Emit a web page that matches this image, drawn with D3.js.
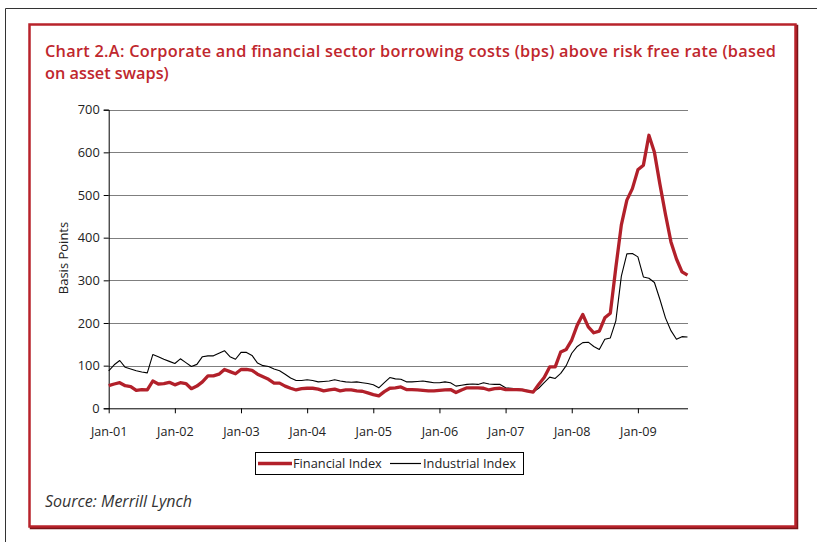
<!DOCTYPE html>
<html>
<head>
<meta charset="utf-8">
<script src="https://cdn.jsdelivr.net/npm/d3@7"></script>
<style>
  html, body { margin: 0; padding: 0; background: #ffffff; }
  svg { display: block; }
</style>
</head>
<body>
<svg id="chart" width="817" height="542"></svg>
<script>
// ---- DATA (monthly, Jan-01 .. Oct-09) ----
const tickLabels = ["Jan-01","Jan-02","Jan-03","Jan-04","Jan-05","Jan-06","Jan-07","Jan-08","Jan-09"];
const yTicks = [0,100,200,300,400,500,600,700];

const financialIndex = [
  53,57,60,53,51,42,44,43,64,57,58,61,
  55,60,58,46,52,62,76,76,80,91,86,81,
  91,91,89,80,74,68,59,59,52,47,43,46,
  47,47,45,41,43,45,41,43,43,41,40,36,
  32,29,39,47,48,50,44,44,43,42,41,41,
  42,43,44,37,43,48,48,48,47,43,46,47,
  44,44,44,43,40,38,56,72,97,97,132,138,
  160,195,220,191,177,181,212,223,330,430,488,515,
  559,570,640,600,525,455,390,350,320,312
];
const industrialIndex = [
  88,102,112,96,92,88,85,83,126,121,115,110,
  105,116,107,98,103,121,123,123,129,135,121,115,
  131,131,124,106,100,98,92,88,80,71,65,65,
  67,65,62,63,64,67,64,62,61,62,60,58,
  55,48,60,72,69,68,62,62,63,64,62,60,
  60,62,60,52,54,56,57,56,60,57,56,56,
  48,47,46,44,42,38,47,60,73,70,82,100,
  129,145,154,155,145,138,162,165,205,310,362,363,
  355,308,305,295,255,212,182,162,168,167
];

const seriesNames = ["Financial Index","Industrial Index"];
const seriesColors = ["#b2202a","#000000"];

// ---- LAYOUT ----
const svg = d3.select("#chart");
const red = "#b8232b";
const font = "'Open Sans', sans-serif";

// outer thin frame
svg.append("line").attr("x1",5.5).attr("x2",817).attr("y1",8.5).attr("y2",8.5).attr("stroke","#333").attr("stroke-width",1);
svg.append("line").attr("x1",5.5).attr("x2",5.5).attr("y1",8.5).attr("y2",542).attr("stroke","#333").attr("stroke-width",1);

// red box with slight shadow
svg.append("rect").attr("x",31).attr("y",26).attr("width",766).attr("height",502).attr("fill","none").attr("stroke","#7a1418").attr("stroke-width",2.5);
svg.append("rect").attr("x",29.5).attr("y",24.5).attr("width",766).attr("height",502).attr("fill","#fff").attr("stroke",red).attr("stroke-width",2.5);

// title
const title = svg.append("text").attr("fill","#c0272d").style("font-family",font).style("font-weight",600).style("font-size","16.3px");
title.append("tspan").attr("x",45).attr("y",57).attr("textLength",731).attr("lengthAdjust","spacing")
  .text("Chart 2.A: Corporate and financial sector borrowing costs (bps) above risk free rate (based");
title.append("tspan").attr("x",45).attr("y",79).text("on asset swaps)");

// scales
const x = d3.scaleLinear().domain([0, financialIndex.length - 1]).range([108.7, 687.5]);
const y = d3.scaleLinear().domain([0, 700]).range([408.3, 109.7]);
const xEnd = 688;

// gridlines
svg.append("g").selectAll("line").data(yTicks.filter(d => d > 0)).join("line")
  .attr("x1", 108.7).attr("x2", xEnd)
  .attr("y1", d => Math.round(y(d)) + 0.5).attr("y2", d => Math.round(y(d)) + 0.5)
  .attr("stroke", "#7f7f7f").attr("stroke-width", 1);

// y axis
const yAxis = d3.axisLeft(y).tickValues(yTicks).tickSize(5).tickPadding(4).tickFormat(d3.format("d"));
const gy = svg.append("g").attr("transform","translate(108.7,0)").call(yAxis);
gy.select(".domain").attr("stroke","#000");
gy.selectAll(".tick line").attr("stroke","#000");
gy.selectAll("text").style("font-family",font).style("font-size","12.8px").attr("fill","#222");

// x axis
const tickPos = tickLabels.map((_, i) => i * 12);
const xAxis = d3.axisBottom(x).tickValues(tickPos).tickSize(5).tickPadding(14).tickFormat((d, i) => tickLabels[i]);
const gx = svg.append("g").attr("transform","translate(0,408.3)").call(xAxis);
gx.select(".domain").attr("d", `M108.7,0.5H${xEnd}`).attr("stroke","#000");
gx.selectAll(".tick line").attr("stroke","#000");
gx.selectAll("text").style("font-family",font).style("font-size","12.6px").attr("fill","#222");

// axis title
svg.append("text").attr("transform","translate(68,258) rotate(-90)").attr("text-anchor","middle")
  .style("font-family",font).style("font-size","13px").attr("fill","#222").text("Basis Points");

// lines
const line = d3.line().x((d, i) => x(i)).y(d => y(d));
svg.append("path").datum(industrialIndex).attr("d", line).attr("fill","none").attr("stroke", seriesColors[1]).attr("stroke-width",1.1).attr("stroke-linejoin","round");
svg.append("path").datum(financialIndex).attr("d", line).attr("fill","none").attr("stroke", seriesColors[0]).attr("stroke-width",3.3).attr("stroke-linejoin","round");

// legend
const lg = svg.append("g");
lg.append("rect").attr("x",255.5).attr("y",452.5).attr("width",268).attr("height",22).attr("fill","#fff").attr("stroke","#000").attr("stroke-width",1);
lg.append("line").attr("x1",258).attr("x2",292).attr("y1",463.5).attr("y2",463.5).attr("stroke",seriesColors[0]).attr("stroke-width",3.5);
lg.append("text").attr("x",293).attr("y",468).style("font-family",font).style("font-size","12.8px").attr("fill","#222").text(seriesNames[0]);
lg.append("line").attr("x1",390).attr("x2",421).attr("y1",463.5).attr("y2",463.5).attr("stroke",seriesColors[1]).attr("stroke-width",1.2);
lg.append("text").attr("x",423).attr("y",468).style("font-family",font).style("font-size","12.8px").attr("fill","#222").text(seriesNames[1]);

// source
svg.append("text").attr("x",45).attr("y",507).style("font-family",font).style("font-style","italic").style("font-size","16px").attr("fill","#333").text("Source: Merrill Lynch");
</script>
</body>
</html>
